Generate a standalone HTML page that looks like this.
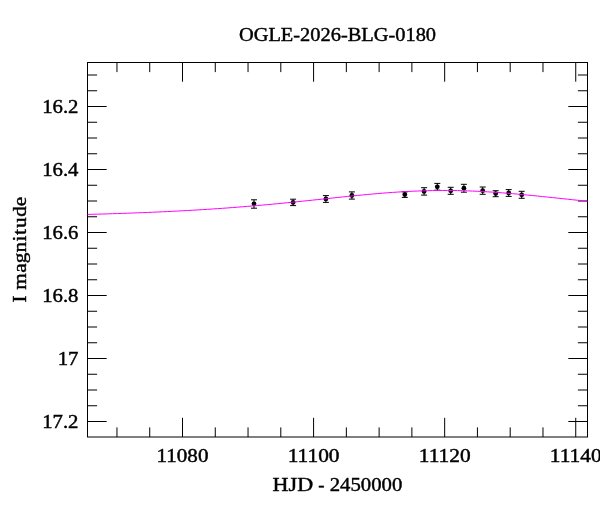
<!DOCTYPE html>
<html><head><meta charset="utf-8"><title>OGLE-2026-BLG-0180</title>
<style>
html,body{margin:0;padding:0;background:#fff;}
svg{display:block;}
text{font-family:"Liberation Serif", serif;fill:#000;stroke:#000;stroke-width:0.42px;}
</style></head><body>
<svg width="600" height="512" viewBox="0 0 600 512">
<rect x="0" y="0" width="600" height="512" fill="#fff"/>
<path d="M254.0,199.8V208.2M251.0,199.8H257.0M251.0,208.2H257.0" stroke="#000" stroke-width="1" fill="none"/>
<circle cx="254.0" cy="203.8" r="2.4" fill="#000"/>
<path d="M293.1,199.2V205.6M290.1,199.2H296.1M290.1,205.6H296.1" stroke="#000" stroke-width="1" fill="none"/>
<circle cx="293.1" cy="202.4" r="2.4" fill="#000"/>
<path d="M325.9,195.6V202.4M322.9,195.6H328.9M322.9,202.4H328.9" stroke="#000" stroke-width="1" fill="none"/>
<circle cx="325.9" cy="199.0" r="2.4" fill="#000"/>
<path d="M351.9,191.9V199.1M348.9,191.9H354.9M348.9,199.1H354.9" stroke="#000" stroke-width="1" fill="none"/>
<circle cx="351.9" cy="195.5" r="2.4" fill="#000"/>
<path d="M404.8,191.8V197.4M401.8,191.8H407.8M401.8,197.4H407.8" stroke="#000" stroke-width="1" fill="none"/>
<circle cx="404.8" cy="194.5" r="2.4" fill="#000"/>
<path d="M424.1,187.7V195.1M421.1,187.7H427.1M421.1,195.1H427.1" stroke="#000" stroke-width="1" fill="none"/>
<circle cx="424.1" cy="191.4" r="2.4" fill="#000"/>
<path d="M437.3,183.4V190.2M434.3,183.4H440.3M434.3,190.2H440.3" stroke="#000" stroke-width="1" fill="none"/>
<circle cx="437.3" cy="186.8" r="2.4" fill="#000"/>
<path d="M450.7,187.3V194.3M447.7,187.3H453.7M447.7,194.3H453.7" stroke="#000" stroke-width="1" fill="none"/>
<circle cx="450.7" cy="190.8" r="2.4" fill="#000"/>
<path d="M463.9,184.3V192.2M460.9,184.3H466.9M460.9,192.2H466.9" stroke="#000" stroke-width="1" fill="none"/>
<circle cx="463.9" cy="188.2" r="2.4" fill="#000"/>
<path d="M482.7,187.0V194.3M479.7,187.0H485.7M479.7,194.3H485.7" stroke="#000" stroke-width="1" fill="none"/>
<circle cx="482.7" cy="190.7" r="2.4" fill="#000"/>
<path d="M495.7,190.7V196.7M492.7,190.7H498.7M492.7,196.7H498.7" stroke="#000" stroke-width="1" fill="none"/>
<circle cx="495.7" cy="193.6" r="2.4" fill="#000"/>
<path d="M508.7,189.6V196.4M505.7,189.6H511.7M505.7,196.4H511.7" stroke="#000" stroke-width="1" fill="none"/>
<circle cx="508.7" cy="193.0" r="2.4" fill="#000"/>
<path d="M521.7,191.3V198.3M518.7,191.3H524.7M518.7,198.3H524.7" stroke="#000" stroke-width="1" fill="none"/>
<circle cx="521.7" cy="194.8" r="2.4" fill="#000"/>
<rect x="87.5" y="62.5" width="500.0" height="374.5" fill="none" stroke="#000" stroke-width="1"/>
<path d="M116.96,437.0v-9.6M116.96,62.5v9.6M149.73,437.0v-9.6M149.73,62.5v9.6M182.50,437.0v-19.2M182.50,62.5v19.2M215.27,437.0v-9.6M215.27,62.5v9.6M248.04,437.0v-9.6M248.04,62.5v9.6M280.81,437.0v-9.6M280.81,62.5v9.6M313.58,437.0v-19.2M313.58,62.5v19.2M346.35,437.0v-9.6M346.35,62.5v9.6M379.12,437.0v-9.6M379.12,62.5v9.6M411.89,437.0v-9.6M411.89,62.5v9.6M444.66,437.0v-19.2M444.66,62.5v19.2M477.43,437.0v-9.6M477.43,62.5v9.6M510.20,437.0v-9.6M510.20,62.5v9.6M542.97,437.0v-9.6M542.97,62.5v9.6M575.74,437.0v-19.2M575.74,62.5v19.2M87.5,75.00h9.6M587.5,75.00h-9.6M87.5,90.75h9.6M587.5,90.75h-9.6M87.5,106.50h19.2M587.5,106.50h-19.2M87.5,122.25h9.6M587.5,122.25h-9.6M87.5,138.00h9.6M587.5,138.00h-9.6M87.5,153.75h9.6M587.5,153.75h-9.6M87.5,169.50h19.2M587.5,169.50h-19.2M87.5,185.25h9.6M587.5,185.25h-9.6M87.5,201.00h9.6M587.5,201.00h-9.6M87.5,216.75h9.6M587.5,216.75h-9.6M87.5,232.50h19.2M587.5,232.50h-19.2M87.5,248.25h9.6M587.5,248.25h-9.6M87.5,264.00h9.6M587.5,264.00h-9.6M87.5,279.75h9.6M587.5,279.75h-9.6M87.5,295.50h19.2M587.5,295.50h-19.2M87.5,311.25h9.6M587.5,311.25h-9.6M87.5,327.00h9.6M587.5,327.00h-9.6M87.5,342.75h9.6M587.5,342.75h-9.6M87.5,358.50h19.2M587.5,358.50h-19.2M87.5,374.25h9.6M587.5,374.25h-9.6M87.5,390.00h9.6M587.5,390.00h-9.6M87.5,405.75h9.6M587.5,405.75h-9.6M87.5,421.50h19.2M587.5,421.50h-19.2" stroke="#000" stroke-width="1" fill="none"/>
<path d="M87.5,214.41 L92.5,214.28 L97.5,214.15 L102.5,214.01 L107.5,213.86 L112.5,213.70 L117.5,213.55 L122.5,213.38 L127.5,213.21 L132.5,213.03 L137.5,212.84 L142.5,212.65 L147.5,212.45 L152.5,212.24 L157.5,212.02 L162.5,211.79 L167.5,211.55 L172.5,211.31 L177.5,211.06 L182.5,210.79 L187.5,210.52 L192.5,210.23 L197.5,209.94 L202.5,209.63 L207.5,209.32 L212.5,208.99 L217.5,208.65 L222.5,208.30 L227.5,207.94 L232.5,207.57 L237.5,207.18 L242.5,206.78 L247.5,206.37 L252.5,205.95 L257.5,205.52 L262.5,205.08 L267.5,204.63 L272.5,204.16 L277.5,203.69 L282.5,203.20 L287.5,202.71 L292.5,202.21 L297.5,201.70 L302.5,201.18 L307.5,200.66 L312.5,200.14 L317.5,199.61 L322.5,199.08 L327.5,198.55 L332.5,198.02 L337.5,197.49 L342.5,196.96 L347.5,196.45 L352.5,195.94 L357.5,195.44 L362.5,194.96 L367.5,194.48 L372.5,194.03 L377.5,193.59 L382.5,193.18 L387.5,192.78 L392.5,192.42 L397.5,192.08 L402.5,191.76 L407.5,191.48 L412.5,191.23 L417.5,191.01 L422.5,190.83 L427.5,190.69 L432.5,190.58 L437.5,190.50 L442.5,190.47 L447.5,190.47 L452.5,190.52 L457.5,190.59 L462.5,190.71 L467.5,190.86 L472.5,191.05 L477.5,191.28 L482.5,191.53 L487.5,191.82 L492.5,192.14 L497.5,192.49 L502.5,192.86 L507.5,193.26 L512.5,193.68 L517.5,194.12 L522.5,194.57 L527.5,195.05 L532.5,195.54 L537.5,196.04 L542.5,196.55 L547.5,197.07 L552.5,197.59 L557.5,198.12 L562.5,198.65 L567.5,199.18 L572.5,199.71 L577.5,200.24 L582.5,200.76 L587.5,201.28" fill="none" stroke="#ff00ff" stroke-width="1"/>
<text x="182.5" y="462.1" font-size="18" stroke-width="0.5" text-anchor="middle" textLength="51.9" lengthAdjust="spacingAndGlyphs">11080</text>
<text x="313.6" y="462.1" font-size="18" stroke-width="0.5" text-anchor="middle" textLength="51.9" lengthAdjust="spacingAndGlyphs">11100</text>
<text x="444.7" y="462.1" font-size="18" stroke-width="0.5" text-anchor="middle" textLength="51.9" lengthAdjust="spacingAndGlyphs">11120</text>
<text x="575.7" y="462.1" font-size="18" stroke-width="0.5" text-anchor="middle" textLength="51.9" lengthAdjust="spacingAndGlyphs">11140</text>
<text x="78.5" y="113.0" font-size="18" stroke-width="0.5" text-anchor="end" textLength="36.3" lengthAdjust="spacingAndGlyphs">16.2</text>
<text x="78.5" y="176.0" font-size="18" stroke-width="0.5" text-anchor="end" textLength="36.3" lengthAdjust="spacingAndGlyphs">16.4</text>
<text x="78.5" y="239.0" font-size="18" stroke-width="0.5" text-anchor="end" textLength="36.3" lengthAdjust="spacingAndGlyphs">16.6</text>
<text x="78.5" y="302.1" font-size="18" stroke-width="0.5" text-anchor="end" textLength="36.3" lengthAdjust="spacingAndGlyphs">16.8</text>
<text x="78.5" y="365.1" font-size="18" stroke-width="0.5" text-anchor="end" textLength="20.8" lengthAdjust="spacingAndGlyphs">17</text>
<text x="78.5" y="428.1" font-size="18" stroke-width="0.5" text-anchor="end" textLength="36.3" lengthAdjust="spacingAndGlyphs">17.2</text>
<text x="337.5" y="41" font-size="19.1" text-anchor="middle" textLength="197.1" lengthAdjust="spacingAndGlyphs">OGLE-2026-BLG-0180</text>
<text y="491.1" font-size="19.1"><tspan x="272.64" textLength="40.46" lengthAdjust="spacingAndGlyphs">HJD</tspan> <tspan x="318.29" textLength="6.22" lengthAdjust="spacingAndGlyphs">-</tspan> <tspan x="329.70" textLength="72.66" lengthAdjust="spacingAndGlyphs">2450000</tspan></text>
<text transform="translate(26.25,249.75) rotate(-90) scale(1.07,1)" font-size="19.8" x="-49.19 -42.39 -37.43 -21.52 -12.54 -2.52 7.75 13.89 20.42 30.76 40.68">I magnitude</text>
</svg></body></html>
